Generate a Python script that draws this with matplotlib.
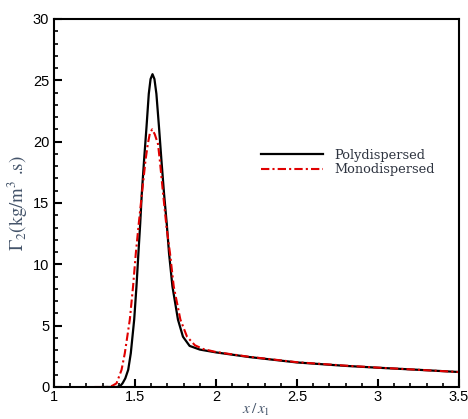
import matplotlib
matplotlib.use("Agg")
import matplotlib.pyplot as plt
from matplotlib.ticker import MultipleLocator

# curves
poly_x = [1.30, 1.39, 1.41, 1.423, 1.44, 1.458, 1.474, 1.495, 1.509, 1.521, 1.532, 1.542,
          1.556, 1.571, 1.585, 1.596, 1.608, 1.620, 1.632, 1.648, 1.663, 1.679, 1.696,
          1.710, 1.731, 1.765, 1.796, 1.837, 1.90, 2.0, 2.2, 2.5, 2.8, 3.0, 3.25, 3.5]
poly_y = [0.0, 0.0, 0.1, 0.3, 0.7, 1.4, 2.75, 5.5, 8.2, 10.9, 13.3, 15.8,
          18.5, 21.2, 23.9, 25.1, 25.5, 25.1, 23.9, 21.2, 18.5, 15.8, 13.3,
          10.9, 8.2, 5.5, 4.1, 3.35, 3.05, 2.82, 2.45, 2.0, 1.72, 1.57, 1.4, 1.22]

mono_x = [1.25, 1.33, 1.36, 1.386, 1.417, 1.437, 1.468, 1.488, 1.505, 1.523, 1.543,
          1.565, 1.579, 1.592, 1.606, 1.622, 1.642, 1.653, 1.673, 1.694, 1.716, 1.739,
          1.780, 1.821, 1.87, 1.92, 2.0, 2.2, 2.5, 2.8, 3.0, 3.25, 3.5]
mono_y = [0.0, 0.0, 0.1, 0.3, 1.4, 2.75, 5.5, 8.2, 10.9, 13.3, 15.8,
          18.5, 19.8, 20.7, 21.0, 20.6, 19.8, 18.5, 15.8, 13.1, 10.9, 8.2,
          5.5, 4.1, 3.4, 3.1, 2.85, 2.47, 2.02, 1.74, 1.58, 1.4, 1.22]

plt.rcParams['mathtext.fontset'] = 'stix'
text_col = '#44546a'

fig = plt.figure(figsize=(4.68, 4.19), dpi=100)
ax = fig.add_axes([0.1154, 0.0764, 0.8654, 0.8783])

ax.plot(poly_x, poly_y, color='black', lw=1.6, label='Polydispersed')
ax.plot(mono_x, mono_y, color='#e00000', lw=1.5, ls=(0, (4, 1.5, 1, 1.5)),
        label='Monodispersed')

ax.set_xlim(1, 3.5)
ax.set_ylim(0, 30)
ax.xaxis.set_major_locator(MultipleLocator(0.5))
ax.xaxis.set_minor_locator(MultipleLocator(0.1))
ax.yaxis.set_major_locator(MultipleLocator(5))
ax.yaxis.set_minor_locator(MultipleLocator(1))
ax.set_xticks([1, 1.5, 2, 2.5, 3, 3.5])
ax.set_xticklabels(['1', '1.5', '2', '2.5', '3', '3.5'])

ax.tick_params(which='both', direction='in', top=False, right=False,
               labelsize=10.5, width=1.2)
ax.tick_params(which='major', length=6, width=1.5)
ax.tick_params(which='minor', length=3)
ax.tick_params(axis='x', pad=2)
for lab in ax.get_xticklabels() + ax.get_yticklabels():
    lab.set_fontfamily('Liberation Sans')
for sp in ax.spines.values():
    sp.set_linewidth(1.5)

ax.set_ylabel(r'$\mathit{\Gamma}_2$(kg/m$^3$ .s)', fontsize=13.5, color=text_col,
              fontfamily='STIXGeneral', labelpad=2)
ax.set_xlabel(r'$x\,/\,x_1$', fontsize=11, color=text_col, labelpad=-1)

leg = ax.legend(loc='center left', bbox_to_anchor=(0.495, 0.61), frameon=False,
                handlelength=4.8, handletextpad=0.9, borderpad=0, labelspacing=0.15,
                prop={'family': 'DejaVu Serif', 'size': 9.3})
for t in leg.get_texts():
    t.set_color('#2e3440')

fig.savefig('out.png', dpi=100)
